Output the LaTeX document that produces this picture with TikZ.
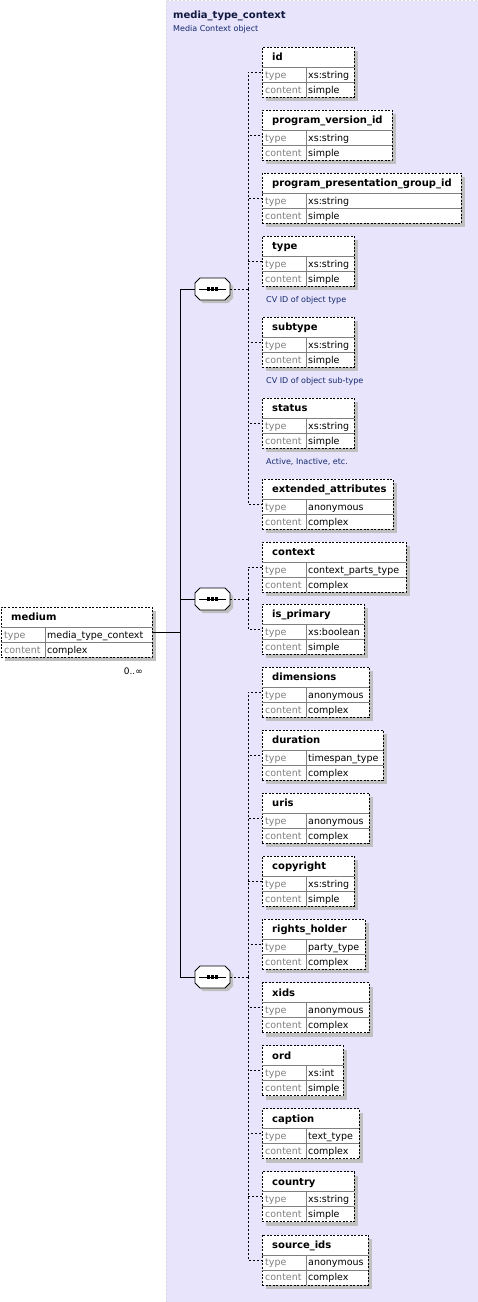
\documentclass[tikz,border=0pt]{standalone}
\usepackage{fontspec}
\setmainfont{DejaVu Sans}
\usetikzlibrary{positioning,shadows}
\definecolor{PanelLav}{RGB}{231,228,252}
\definecolor{LabelGray}{RGB}{128,128,128}
\definecolor{NoteBlue}{RGB}{20,40,110}
\definecolor{TitleNavy}{RGB}{16,24,64}
\definecolor{ShadowGray}{RGB}{192,192,192}
\tikzset{
	panel/.style={fill=PanelLav,draw=black!15,dash pattern=on 2pt off 2pt,line width=0.8pt},
	elbox/.style={draw=black,fill=white,dash pattern=on 2pt off 1.5pt,line width=0.8pt,
		minimum height=50pt,inner sep=0pt,outer sep=0pt,
		drop shadow={shadow xshift=4pt,shadow yshift=-4pt,fill=ShadowGray,opacity=1}},
	rowsep/.style={draw=LabelGray,line width=0.8pt},
	elname/.style={anchor=base west,inner sep=0pt,font=\fontsize{10}{12}\selectfont\bfseries},
	ellabel/.style={anchor=base west,inner sep=0pt,text=LabelGray,font=\fontsize{9.5}{11}\selectfont},
	elvalue/.style={anchor=base west,inner sep=0pt,font=\fontsize{9.5}{11}\selectfont},
	note/.style={anchor=base west,inner sep=0pt,text=NoteBlue,font=\fontsize{8}{10}\selectfont},
	seqbox/.style={rectangle,minimum width=35pt,minimum height=22pt,inner sep=0pt,outer sep=0pt},
	seqframe/.style={draw=black,fill=white,line width=0.8pt,
		drop shadow={shadow xshift=3pt,shadow yshift=-3pt,fill=ShadowGray,opacity=1}},
	tree/.style={draw=black,line width=0.8pt},
	link/.style={draw=black,line width=0.8pt,dash pattern=on 2pt off 2pt},
}
% element box: name, left, top, width, title, type, content
\newcommand\elembox[7]{%
	\node[elbox,minimum width=#4pt,anchor=north west] (#1) at (#2,#3) {};
	\draw[rowsep] ([yshift=-20pt]#1.north west) -- ([yshift=-20pt]#1.north east)
		([yshift=-35pt]#1.north west) -- ([yshift=-35pt]#1.north east)
		([shift={(44pt,-20pt)}]#1.north west) -- ([xshift=44pt]#1.south west);
	\node[elname] (#1-name) at ([shift={(10pt,-13.5pt)}]#1.north west) {#5};
	\node[ellabel] (#1-tl) at ([shift={(3pt,-31pt)}]#1.north west) {type};
	\node[elvalue] (#1-tv) at ([shift={(46pt,-31pt)}]#1.north west) {#6};
	\node[ellabel] (#1-cl) at ([shift={(3pt,-46pt)}]#1.north west) {content};
	\node[elvalue] (#1-cv) at ([shift={(46pt,-46pt)}]#1.north west) {#7};
}

\begin{document}
\begin{tikzpicture}[x=1pt,y=-1pt]
	\useasboundingbox (0,0) rectangle (478,1302);
	\path[panel] (166,0.5) rectangle (484,1308);
	\node[elname,text=TitleNavy] (ctxtitle) at (173,18) {media\_type\_context};
	\node[note] (ctxnote) at (173,31) {Media Context object};

	% root element
	\elembox{medium}{1}{607}{151}{medium}{media\_type\_context}{complex}
	\node[anchor=base east,inner sep=0pt,font=\fontsize{9}{11}\selectfont] (mediumocc) at (143,674) {0..∞};

	% sequences
	\node[seqbox] (seqA) at (212.5,289) {};
	\node[seqbox] (seqB) at (212.5,599) {};
	\node[seqbox] (seqC) at (212.5,977) {};
	\foreach \s in {seqA,seqB,seqC}{
		\draw[seqframe] ([xshift=5pt]\s.north west) -- ([xshift=-5pt]\s.north east)
			-- ([yshift=-5pt]\s.north east) -- ([yshift=5pt]\s.south east)
			-- ([xshift=-5pt]\s.south east) -- ([xshift=5pt]\s.south west)
			-- ([yshift=5pt]\s.south west) -- ([yshift=-5pt]\s.north west) -- cycle;
		\draw[tree] ([xshift=4pt]\s.west) -- ([xshift=-4pt]\s.east);
		\foreach \d in {-4,0,4}
			\fill ([shift={(\d pt-1.6pt,-1.6pt)}]\s.center) rectangle ++(3.2pt,3.2pt);
	}

	% first sequence
	\elembox{id}{262}{47}{92}{id}{xs:string}{simple}
	\elembox{progver}{262}{110}{130}{program\_version\_id}{xs:string}{simple}
	\elembox{progpres}{262}{173}{199}{program\_presentation\_group\_id}{xs:string}{simple}
	\elembox{objtype}{262}{236}{92}{type}{xs:string}{simple}
	\node[note] (objtypenote) at (266,302) {CV ID of object type};
	\elembox{subtype}{262}{317}{92}{subtype}{xs:string}{simple}
	\node[note] (subtypenote) at (266,383) {CV ID of object sub-type};
	\elembox{status}{262}{398}{92}{status}{xs:string}{simple}
	\node[note] (statusnote) at (266,464) {Active, Inactive, etc.};
	\elembox{extattr}{262}{479}{131}{extended\_attributes}{anonymous}{complex}

	% second sequence
	\elembox{context}{262}{542}{144}{context}{context\_parts\_type}{complex}
	\elembox{isprimary}{262}{604}{102}{is\_primary}{xs:boolean}{simple}

	% third sequence
	\elembox{dimensions}{262}{667}{107}{dimensions}{anonymous}{complex}
	\elembox{duration}{262}{730.1}{121}{duration}{timespan\_type}{complex}
	\elembox{uris}{262}{793.2}{107}{uris}{anonymous}{complex}
	\elembox{copyright}{262}{856.3}{92}{copyright}{xs:string}{simple}
	\elembox{rightsholder}{262}{919.4}{103}{rights\_holder}{party\_type}{complex}
	\elembox{xids}{262}{982.5}{107}{xids}{anonymous}{complex}
	\elembox{ord}{262}{1045.6}{81}{ord}{xs:int}{simple}
	\elembox{caption}{262}{1108.7}{97}{caption}{text\_type}{complex}
	\elembox{country}{262}{1171.8}{92}{country}{xs:string}{simple}
	\elembox{sourceids}{262}{1234.9}{106}{source\_ids}{anonymous}{complex}

	% tree lines
	\coordinate (hub) at (180,632);
	\draw[tree] (medium.east) -- (hub);
	\draw[tree] (hub) |- (seqA.west);
	\draw[tree] (hub) |- (seqB.west);
	\draw[tree] (hub) |- (seqC.west);

	\coordinate (busA) at (248,289);
	\coordinate (busB) at (248,599);
	\coordinate (busC) at (248,977);
	\draw[link] (seqA.east) -- (busA);
	\draw[link] (seqB.east) -- (busB);
	\draw[link] (seqC.east) -- (busC);
	\foreach \e in {id,progver,progpres,objtype,subtype,status,extattr}
		\draw[link] (busA) |- (\e.west);
	\foreach \e in {context,isprimary}
		\draw[link] (busB) |- (\e.west);
	\foreach \e in {dimensions,duration,uris,copyright,rightsholder,xids,ord,caption,country,sourceids}
		\draw[link] (busC) |- (\e.west);
\end{tikzpicture}
\end{document}
